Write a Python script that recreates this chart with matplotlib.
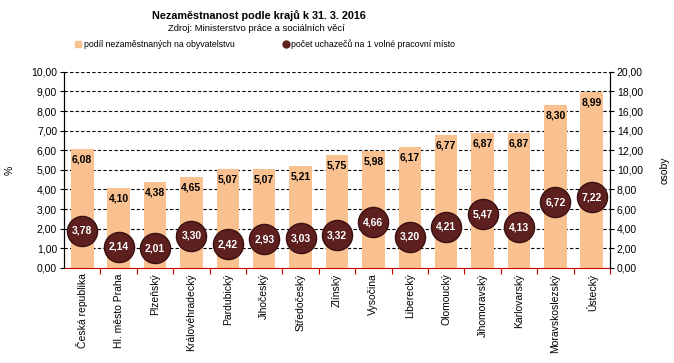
import matplotlib.pyplot as plt
from matplotlib.lines import Line2D
from matplotlib.patches import Patch

plt.rcParams['font.family'] = ['Liberation Sans', 'DejaVu Sans']

regions = ["Česká republika", "Hl. město Praha", "Plzeňský", "Královéhradecký",
           "Pardubický", "Jihočeský", "Středočeský", "Zlínský", "Vysočina",
           "Liberecký", "Olomoucký", "Jihomoravský", "Karlovarský",
           "Moravskoslezský", "Ústecký"]
podil = [6.08, 4.10, 4.38, 4.65, 5.07, 5.07, 5.21, 5.75, 5.98, 6.17,
         6.77, 6.87, 6.87, 8.30, 8.99]
uchazeci = [3.78, 2.14, 2.01, 3.30, 2.42, 2.93, 3.03, 3.32, 4.66, 3.20,
            4.21, 5.47, 4.13, 6.72, 7.22]

bar_color = "#F9C190"
dot_color = "#5E1F1F"


def comma(v):
    return f"{v:.2f}".replace(".", ",")


fig = plt.figure(figsize=(6.74, 3.63), dpi=100)
ax = fig.add_axes([0.095, 0.262, 0.81, 0.54])
ax2 = ax.twinx()

x = range(len(regions))
ax.bar(x, podil, width=0.62, color=bar_color, zorder=2)
for i, v in enumerate(podil):
    ax.text(i, v - 0.28, comma(v), ha="center", va="top", fontsize=7.5,
            fontweight="bold", zorder=5)

ax2.scatter(x, uchazeci, s=470, color=dot_color, edgecolor="#3a1010",
            linewidth=1, zorder=4)
for i, v in enumerate(uchazeci):
    ax2.text(i, v, comma(v), ha="center", va="center", fontsize=7.5,
             fontweight="bold", color="white", zorder=6)

ax.set_ylim(0, 10)
ax2.set_ylim(0, 20)
ax.set_xlim(-0.5, len(regions) - 0.5)
ax.set_yticks(range(0, 11))
ax2.set_yticks(range(0, 21, 2))
ax.set_yticklabels([comma(v) for v in range(0, 11)], fontsize=7.5)
ax2.set_yticklabels([comma(v) for v in range(0, 21, 2)], fontsize=7.5)
ax.yaxis.grid(True, linestyle=(0, (3, 2)), color="black", linewidth=0.8, zorder=1)
ax.set_axisbelow(True)

ax.set_xticks([i + 0.5 for i in range(len(regions))], minor=False)
ax.set_xticklabels([])
ax.tick_params(axis="x", colors="#cc0000", length=4)
ax.set_xticks(list(x), minor=True)
ax.set_xticklabels(regions, minor=True, rotation=90, fontsize=7.5)
ax.tick_params(axis="x", which="minor", length=0, pad=4, labelcolor="black")

ax.spines["bottom"].set_color("#cc0000")
ax.spines["top"].set_visible(False)
ax2.spines["top"].set_visible(False)
ax2.spines["bottom"].set_visible(False)
ax.tick_params(axis="y", length=3, pad=2)
ax2.tick_params(axis="y", length=3, pad=2)

ax.set_ylabel("%", fontsize=7.5, labelpad=12)
ax2.set_ylabel("osoby", fontsize=7.5, labelpad=12)

fig.text(0.384, 0.956, "Nezaměstnanost podle krajů k 31. 3. 2016", ha="center",
         va="center", fontsize=7.8, fontweight="bold")
fig.text(0.38, 0.922, "Zdroj: Ministerstvo práce a sociálních věcí", ha="center",
         va="center", fontsize=6.8)

handles = [Patch(color=bar_color),
           Line2D([], [], marker="o", linestyle="", color=dot_color, markersize=5)]
fig.legend(handles, ["podíl nezaměstnaných na obyvatelstvu",
                     "počet uchazečů na 1 volné pracovní místo"],
           loc="center left", bbox_to_anchor=(0.111, 0.879), ncol=2, frameon=False,
           fontsize=6.3, handlelength=0.7, handletextpad=0.3, columnspacing=5.5,
           borderpad=0, borderaxespad=0)

fig.savefig("out.png", dpi=100)
